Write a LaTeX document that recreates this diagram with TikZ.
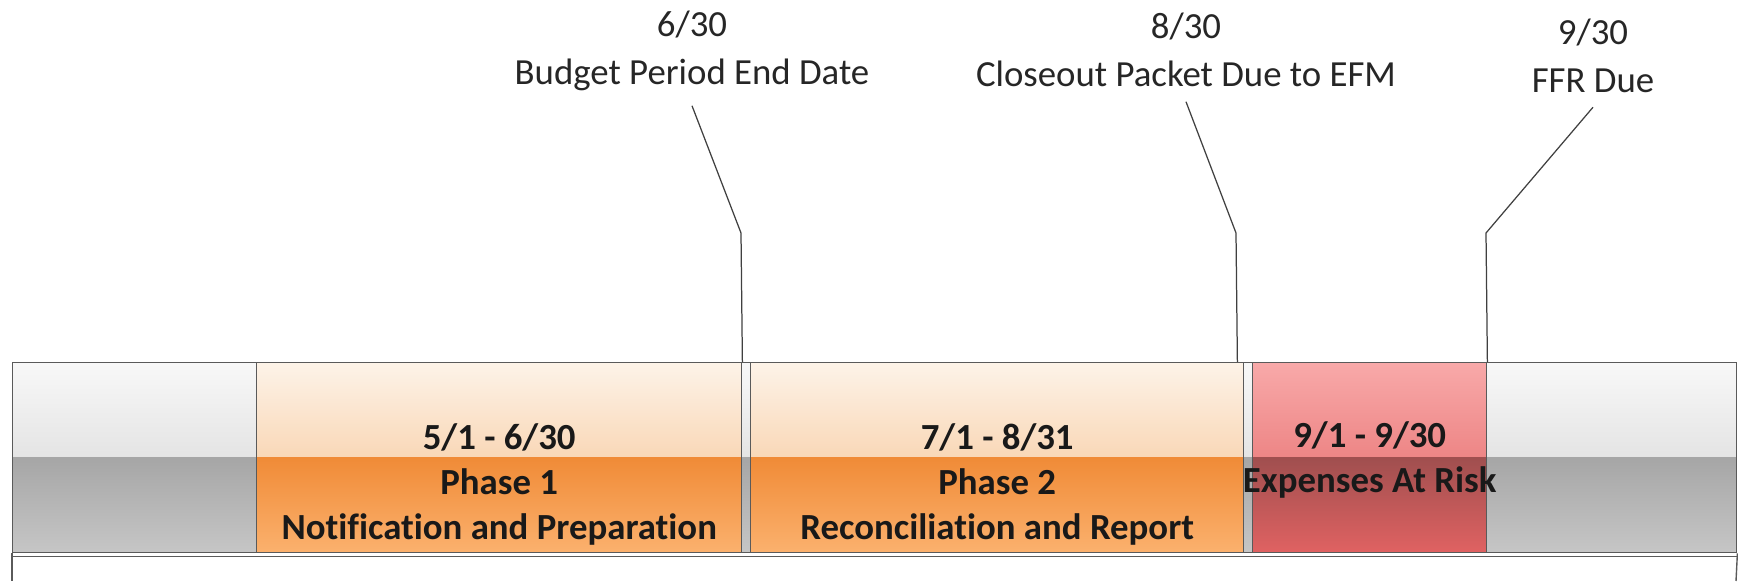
\documentclass[tikz,border=0pt]{standalone}
\usepackage{fontspec}
\setmainfont{Carlito}[Ligatures={NoCommon}]
\usepackage{tikz}
\usetikzlibrary{positioning}

\definecolor{edgegray}{HTML}{5A5A5A}
\definecolor{leadgray}{HTML}{404040}
\definecolor{grayA}{HTML}{F8F8F8}
\definecolor{grayB}{HTML}{D0D0D0}
\definecolor{grayC}{HTML}{A6A6A6}
\definecolor{grayD}{HTML}{C6C6C6}
\definecolor{orA}{HTML}{FDF3E8}
\definecolor{orB}{HTML}{F5BC86}
\definecolor{orC}{HTML}{F08B37}
\definecolor{orD}{HTML}{FBB16E}
\definecolor{rdA}{HTML}{F8A9A9}
\definecolor{rdB}{HTML}{E36262}
\definecolor{rdC}{HTML}{A04F4F}
\definecolor{rdD}{HTML}{E06262}

\tikzset{
    gloss/.style n args={4}{path picture={
        \shade[top color=#1,bottom color=#2] (path picture bounding box.north west) rectangle (path picture bounding box.east);
        \shade[top color=#3,bottom color=#4] (path picture bounding box.west) rectangle (path picture bounding box.south east);}},
    barbox/.style={draw=edgegray,line width=1pt,anchor=north west,minimum height=1.9in,inner sep=0pt},
    phasetext/.style={align=center,font=\fontsize{26.6}{32.4}\selectfont\bfseries,text=black!90},
    datetext/.style={align=center,font=\fontsize{26.6}{34.6}\selectfont,text=black!85},
    leader/.style={draw=leadgray,line width=0.9pt},
    frame/.style={draw=edgegray,line width=1pt},
}

\begin{document}
\begin{tikzpicture}
    \useasboundingbox (0,0) rectangle (17.38in,5.81in);

    % grey bar and frame
    \node[barbox,gloss={grayA}{grayB}{grayC}{grayD},minimum width=17.24in] (bar) at (0.12in,2.19in) {};
    \coordinate (fbl) at (0.12in,0);
    \coordinate (fbr) at (17.36in,0);
    \draw[frame] (bar.south west) -- (fbl);
    \draw[frame] (bar.south east) -- (fbr);
    \draw[frame] ([yshift=-0.03in]bar.south west) -- ([yshift=-0.03in]bar.south east);

    % phases
    \node[barbox,gloss={orA}{orB}{orC}{orD},minimum width=4.85in] (ph1) at (2.56in,2.19in) {};
    \node[barbox,gloss={orA}{orB}{orC}{orD},minimum width=4.93in] (ph2) at (7.50in,2.19in) {};
    \node[barbox,gloss={rdA}{rdB}{rdC}{rdD},minimum width=2.34in] (risk) at (12.52in,2.19in) {};

    \node[phasetext] (ph1txt) at ([yshift=-0.27in]ph1.center) {5/1 - 6/30\\Phase 1\\Notification and Preparation};
    \node[phasetext] (ph2txt) at ([yshift=-0.27in]ph2.center) {7/1 - 8/31\\Phase 2\\Reconciliation and Report};
    \node[phasetext] (risktxt) at ([yshift=-0.02in]risk.center) {9/1 - 9/30\\Expenses At Risk};

    % dates
    \node[datetext] (d630) at (6.92in,5.30in) {6/30\\Budget Period End Date};
    \node[datetext] (d830) at (11.86in,5.31in) {8/30\\Closeout Packet Due to EFM};
    \node[datetext] (d930) at (15.93in,5.255in) {9/30\\FFR Due};

    \coordinate (k1) at (7.41in,3.48in);
    \coordinate (k2) at (12.36in,3.48in);
    \coordinate (k3) at (14.86in,3.48in);
    \draw[leader] ([yshift=-0.1in]d630.south) -- (k1) -- (ph1.north east);
    \draw[leader] ([yshift=-0.1in]d830.south) -- (k2) -- ([xshift=-0.07in]ph2.north east);
    \draw[leader] ([yshift=-0.1in]d930.south) -- (k3) -- (risk.north east);
\end{tikzpicture}
\end{document}
